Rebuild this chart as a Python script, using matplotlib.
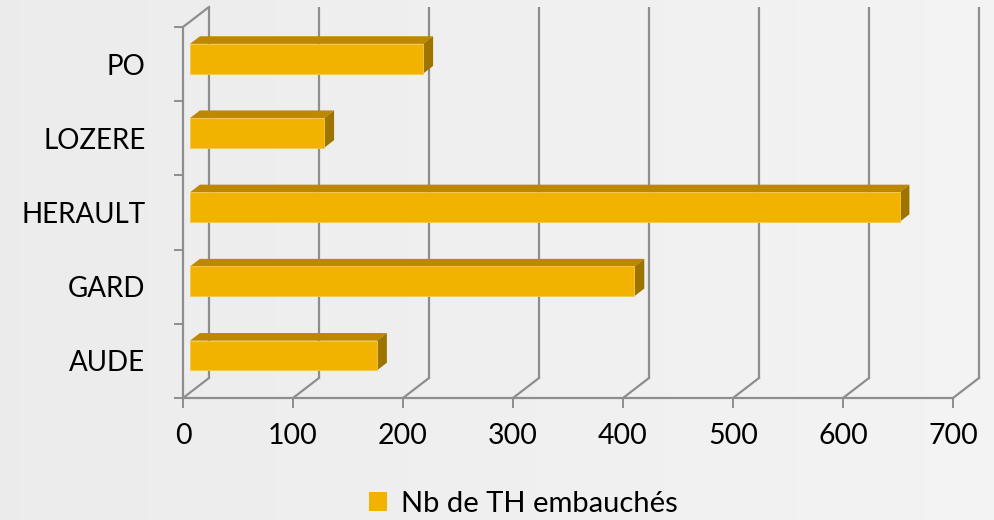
#!/usr/bin/env python3
import numpy as np
import matplotlib
matplotlib.use("Agg")
import matplotlib.pyplot as plt
from matplotlib.patches import Polygon, Patch

# data
departements = ["AUDE", "GARD", "HERAULT", "LOZERE", "PO"]
nb_th = [170, 404, 645, 122, 212]
x_ticks = [0, 100, 200, 300, 400, 500, 600, 700]
serie_label = "Nb de TH embauchés"

# colours
FRONT = "#F2B300"
TOP = "#BD8800"
SIDE = "#9E7400"
GRID = "#8E8E8E"

plt.rcParams["font.family"] = ["Lato", "DejaVu Sans"]

fig = plt.figure(figsize=(9.95, 5.2), dpi=100)

# light gray gradient background
bg = fig.add_axes([0, 0, 1, 1], zorder=-1)
grad = np.linspace(0.925, 0.955, 256).reshape(1, -1)
bg.imshow(np.dstack([grad, grad, grad]), aspect="auto", extent=[0, 1, 0, 1])
bg.axis("off")

# front plane of the fake 3D box
ax = fig.add_axes([183 / 995, 122 / 520, 770 / 995, 371 / 520])
ax.set_facecolor("none")
ax.set_xlim(0, 700)
ax.set_ylim(-0.5, len(departements) - 0.5)

# depth offset (data units) of the back wall
DX = 26 / 1.1
DY = 20 / 74.2
top_y = len(departements) - 0.5

# back wall gridlines and floor diagonals
for v in x_ticks:
    ax.plot([v + DX, v + DX], [-0.5 + DY, top_y + DY], color=GRID, lw=1.6,
            clip_on=False, zorder=1, solid_capstyle="butt")
    ax.plot([v, v + DX], [-0.5, -0.5 + DY], color=GRID, lw=1.6,
            clip_on=False, zorder=1)
# left wall top edge
ax.plot([0, DX], [top_y, top_y + DY], color=GRID, lw=1.6, clip_on=False, zorder=1)

# 3D bars
f0, f1 = 0.27, 0.65
half = 0.2
for i, v in enumerate(nb_th):
    x0, y0 = f0 * DX, i + f0 * DY
    ddx, ddy = (f1 - f0) * DX, (f1 - f0) * DY
    front = [(x0, y0 - half), (x0 + v, y0 - half), (x0 + v, y0 + half), (x0, y0 + half)]
    top = [(x0, y0 + half), (x0 + v, y0 + half), (x0 + v + ddx, y0 + half + ddy),
           (x0 + ddx, y0 + half + ddy)]
    side = [(x0 + v, y0 - half), (x0 + v + ddx, y0 - half + ddy),
            (x0 + v + ddx, y0 + half + ddy), (x0 + v, y0 + half)]
    ax.add_patch(Polygon(top, closed=True, fc=TOP, ec="none", zorder=3, clip_on=False))
    ax.add_patch(Polygon(side, closed=True, fc=SIDE, ec="none", zorder=3, clip_on=False))
    ax.add_patch(Polygon(front, closed=True, fc=FRONT, ec="#F5C84A", lw=0.6,
                         zorder=4, clip_on=False))

# axes lines and ticks
for s in ["top", "right"]:
    ax.spines[s].set_visible(False)
for s in ["left", "bottom"]:
    ax.spines[s].set_color(GRID)
    ax.spines[s].set_linewidth(1.6)

ax.set_xticks(x_ticks)
ax.set_xticklabels([str(t) for t in x_ticks])
ax.tick_params(axis="x", direction="out", length=7, width=1.4, color=GRID,
               labelsize=20.5, pad=11, labelcolor="black")
ax.set_yticks(range(len(departements)))
ax.set_yticklabels(departements)
ax.set_yticks(np.arange(-0.5, len(departements)), minor=True)
ax.tick_params(axis="y", which="major", length=0, labelsize=20, pad=27,
               labelcolor="black")
ax.tick_params(axis="y", which="minor", direction="out", length=6.5, width=1.4,
               color=GRID)

fig.legend(handles=[Patch(facecolor=FRONT, edgecolor="none", label=serie_label)],
           loc="lower center", bbox_to_anchor=(0.526, -0.045), frameon=False,
           fontsize=21, handlelength=0.62, handleheight=0.62, handletextpad=0.45)

fig.savefig("out.png", dpi=100)
